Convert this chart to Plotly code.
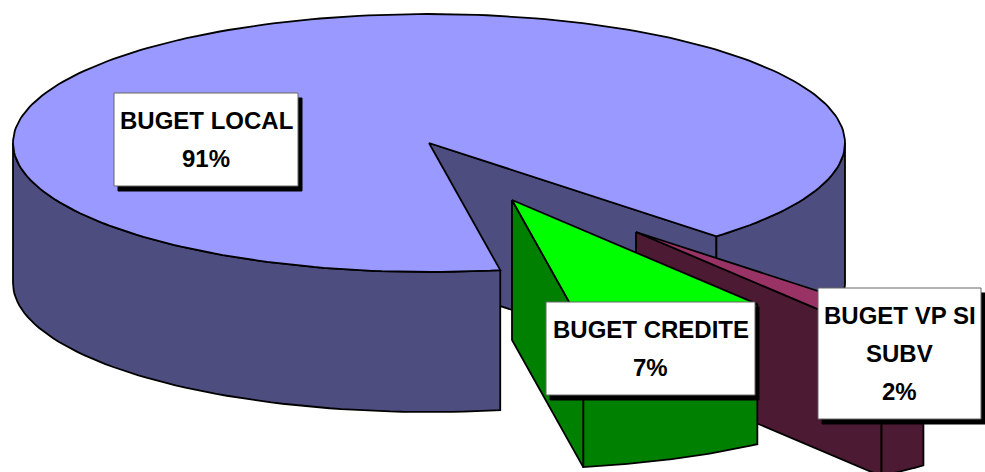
import numpy as np
import plotly.graph_objects as go

# Data
categories = ["BUGET VP SI SUBV", "BUGET CREDITE", "BUGET LOCAL"]
shares = [2.1, 7.3, 90.6]
label_lines = [["BUGET VP SI", "SUBV", "2%"], ["BUGET CREDITE", "7%"], ["BUGET LOCAL", "91%"]]

# Colours
top_colors = ["#993366", "#00ff00", "#9999ff"]
side_colors = ["#4d1a33", "#008000", "#4d4d80"]

# Pie geometry
CX, CY, RX, RY, DEPTH = 429, 143, 416, 129, 140
START = 46.3
offsets = [(207, 89), (83, 57), (0, 0)]
boxes = [(818, 288, 981, 419), (546, 302, 755, 395), (114, 93, 298, 186)]
LINE_STEP = 38
FONT = dict(family="Liberation Sans, Arial, sans-serif", size=24, color="black")

fig = go.Figure()


def poly(xs, ys, color):
    fig.add_trace(go.Scatter(
        x=list(xs) + [xs[0]], y=list(ys) + [ys[0]], mode="lines", fill="toself",
        fillcolor=color, line=dict(color="black", width=1.8),
        hoverinfo="skip", showlegend=False))


def pt(angle, off, drop=0.0):
    a = np.radians(angle)
    return CX + off[0] + RX * np.cos(a), CY + off[1] + RY * np.sin(a) + drop


def arc(a0, a1, off, drop=0.0):
    t = np.linspace(a0, a1, 240 if a1 - a0 > 100 else 60)
    r = np.radians(t)
    return CX + off[0] + RX * np.cos(r), CY + off[1] + RY * np.sin(r) + drop


def wall_outer(a0, a1, off, color):
    xt, yt = arc(a0, a1, off)
    xb, yb = arc(a0, a1, off, DEPTH)
    poly(np.r_[xt, xb[::-1]], np.r_[yt, yb[::-1]], color)


def wall_cut(angle, off, color):
    x1, y1 = pt(angle, off)
    ax, ay = CX + off[0], CY + off[1]
    poly([ax, x1, x1, ax], [ay, y1, y1 + DEPTH, ay + DEPTH], color)


def top(a0, a1, off, color):
    x, y = arc(a0, a1, off)
    poly(np.r_[CX + off[0], x], np.r_[CY + off[1], y], color)


# Slice angles from the shares
spans = [s * 3.6 for s in shares]
a_red = (START, START + spans[0])
a_green = (a_red[1], a_red[1] + spans[1])
a_blue = (a_green[1], a_green[1] + spans[2])

# Main slice: inner cut wall, outer walls, then the top
wall_cut(a_blue[1], offsets[2], side_colors[2])
wall_outer(a_blue[0], 180, offsets[2], side_colors[2])
wall_outer(360, a_blue[1], offsets[2], side_colors[2])
top(a_blue[0], a_blue[1], offsets[2], top_colors[2])

# Small exploded slice
wall_outer(a_red[0], a_red[1], offsets[0], side_colors[0])
wall_cut(a_red[1], offsets[0], side_colors[0])
top(a_red[0], a_red[1], offsets[0], top_colors[0])

# Middle exploded slice
wall_outer(a_green[0], a_green[1], offsets[1], side_colors[1])
wall_cut(a_green[1], offsets[1], side_colors[1])
top(a_green[0], a_green[1], offsets[1], top_colors[1])

shapes = []
annotations = []
for (x0, y0, x1, y1), lines in zip(boxes, label_lines):
    shapes.append(dict(type="rect", x0=x0 + 4, y0=y0 + 5, x1=x1 + 4, y1=y1 + 5,
                       fillcolor="black", line=dict(color="black", width=1)))
    shapes.append(dict(type="rect", x0=x0, y0=y0, x1=x1, y1=y1,
                       fillcolor="white", line=dict(color="#666666", width=1)))
    mid = (y0 + y1) / 2
    for i, text in enumerate(lines):
        annotations.append(dict(
            x=(x0 + x1) / 2, y=mid + (i - (len(lines) - 1) / 2) * LINE_STEP,
            text=f"<b>{text}</b>", showarrow=False, font=FONT,
            xanchor="center", yanchor="middle"))

fig.update_layout(
    width=985, height=472, margin=dict(l=0, r=0, t=0, b=0),
    paper_bgcolor="white", plot_bgcolor="white", showlegend=False,
    xaxis=dict(range=[0, 985], visible=False, fixedrange=True),
    yaxis=dict(range=[472, 0], visible=False, fixedrange=True),
    shapes=shapes, annotations=annotations)

fig.write_html("out.html", config=dict(displayModeBar=False),
               post_script="document.body.style.margin='0';document.body.style.overflow='hidden';")
